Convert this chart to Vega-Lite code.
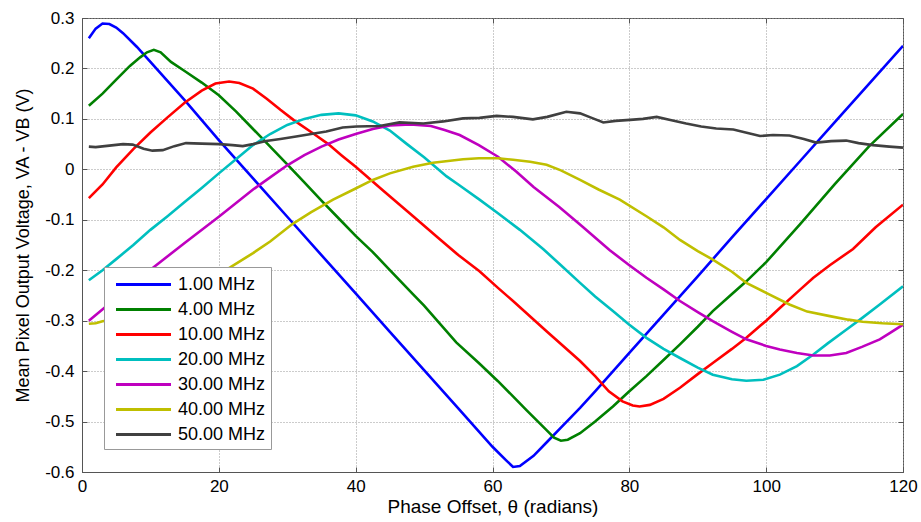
{
  "$schema": "https://vega.github.io/schema/vega-lite/v6.json",
  "width": 821,
  "height": 454,
  "autosize": {"type": "none"},
  "padding": {"left": 82, "top": 18, "right": 18, "bottom": 50},
  "background": "white",
  "config": {
    "font": "Liberation Sans",
    "view": {"stroke": "#555", "strokeWidth": 1},
    "axis": {
      "labelFont": "Liberation Sans", "titleFont": "Liberation Sans",
      "labelFontSize": 17, "titleFontSize": 18, "titleFontWeight": "normal",
      "labelColor": "#000", "titleColor": "#000",
      "domainColor": "#555", "tickColor": "#555",
      "gridColor": "#999", "gridDash": [1, 2], "gridOpacity": 1,
      "tickSize": -5
    },
    "legend": {
      "orient": "none", "legendX": 22, "legendY": 249,
      "fillColor": "white", "strokeColor": "#999", "padding": 5,
      "labelFont": "Liberation Sans", "labelFontSize": 18, "labelColor": "#000",
      "symbolType": "M-0.5,0H4.5", "symbolStrokeWidth": 3, "symbolSize": 484,
      "labelOffset": 44, "rowPadding": 3
    }
  },
  "data": {"values": [
    {"s":"1.00 MHz","x":1,"y":0.26},{"s":"1.00 MHz","x":2,"y":0.279},{"s":"1.00 MHz","x":3,"y":0.289},{"s":"1.00 MHz","x":4,"y":0.288},{"s":"1.00 MHz","x":5,"y":0.281},{"s":"1.00 MHz","x":6,"y":0.27},{"s":"1.00 MHz","x":8,"y":0.243},{"s":"1.00 MHz","x":10,"y":0.213},{"s":"1.00 MHz","x":15,"y":0.137},{"s":"1.00 MHz","x":20,"y":0.058},{"s":"1.00 MHz","x":25,"y":-0.018},{"s":"1.00 MHz","x":30,"y":-0.094},{"s":"1.00 MHz","x":35,"y":-0.17},{"s":"1.00 MHz","x":40,"y":-0.246},{"s":"1.00 MHz","x":45,"y":-0.322},{"s":"1.00 MHz","x":50,"y":-0.398},{"s":"1.00 MHz","x":55,"y":-0.474},{"s":"1.00 MHz","x":60,"y":-0.55},{"s":"1.00 MHz","x":62,"y":-0.577},{"s":"1.00 MHz","x":63,"y":-0.59},{"s":"1.00 MHz","x":64,"y":-0.588},{"s":"1.00 MHz","x":66,"y":-0.568},{"s":"1.00 MHz","x":68,"y":-0.54},{"s":"1.00 MHz","x":70,"y":-0.512},{"s":"1.00 MHz","x":72.8,"y":-0.473},{"s":"1.00 MHz","x":75,"y":-0.44},{"s":"1.00 MHz","x":80,"y":-0.364},{"s":"1.00 MHz","x":85,"y":-0.288},{"s":"1.00 MHz","x":90,"y":-0.212},{"s":"1.00 MHz","x":95,"y":-0.135},{"s":"1.00 MHz","x":100,"y":-0.059},{"s":"1.00 MHz","x":105,"y":0.017},{"s":"1.00 MHz","x":110,"y":0.093},{"s":"1.00 MHz","x":115,"y":0.169},{"s":"1.00 MHz","x":120,"y":0.245},

    {"s":"4.00 MHz","x":1,"y":0.126},{"s":"4.00 MHz","x":3,"y":0.15},{"s":"4.00 MHz","x":5,"y":0.178},{"s":"4.00 MHz","x":7,"y":0.205},{"s":"4.00 MHz","x":8.5,"y":0.222},{"s":"4.00 MHz","x":9.5,"y":0.232},{"s":"4.00 MHz","x":10.5,"y":0.237},{"s":"4.00 MHz","x":11.5,"y":0.232},{"s":"4.00 MHz","x":13,"y":0.213},{"s":"4.00 MHz","x":15,"y":0.195},{"s":"4.00 MHz","x":17.5,"y":0.172},{"s":"4.00 MHz","x":20,"y":0.147},{"s":"4.00 MHz","x":22.5,"y":0.115},{"s":"4.00 MHz","x":25,"y":0.08},{"s":"4.00 MHz","x":27.5,"y":0.045},{"s":"4.00 MHz","x":30,"y":0.01},{"s":"4.00 MHz","x":32.5,"y":-0.026},{"s":"4.00 MHz","x":35,"y":-0.062},{"s":"4.00 MHz","x":37.5,"y":-0.097},{"s":"4.00 MHz","x":40,"y":-0.132},{"s":"4.00 MHz","x":42.5,"y":-0.164},{"s":"4.00 MHz","x":45,"y":-0.2},{"s":"4.00 MHz","x":48.4,"y":-0.248},{"s":"4.00 MHz","x":50,"y":-0.27},{"s":"4.00 MHz","x":54.7,"y":-0.343},{"s":"4.00 MHz","x":58,"y":-0.384},{"s":"4.00 MHz","x":60.8,"y":-0.42},{"s":"4.00 MHz","x":63,"y":-0.45},{"s":"4.00 MHz","x":65,"y":-0.478},{"s":"4.00 MHz","x":67.9,"y":-0.517},{"s":"4.00 MHz","x":69,"y":-0.532},{"s":"4.00 MHz","x":70,"y":-0.538},{"s":"4.00 MHz","x":71,"y":-0.536},{"s":"4.00 MHz","x":72.8,"y":-0.523},{"s":"4.00 MHz","x":75,"y":-0.5},{"s":"4.00 MHz","x":77.6,"y":-0.47},{"s":"4.00 MHz","x":80,"y":-0.44},{"s":"4.00 MHz","x":82.5,"y":-0.41},{"s":"4.00 MHz","x":85,"y":-0.378},{"s":"4.00 MHz","x":87.4,"y":-0.347},{"s":"4.00 MHz","x":90,"y":-0.312},{"s":"4.00 MHz","x":92.2,"y":-0.281},{"s":"4.00 MHz","x":95,"y":-0.247},{"s":"4.00 MHz","x":97.1,"y":-0.222},{"s":"4.00 MHz","x":100,"y":-0.184},{"s":"4.00 MHz","x":105,"y":-0.108},{"s":"4.00 MHz","x":110,"y":-0.03},{"s":"4.00 MHz","x":115,"y":0.045},{"s":"4.00 MHz","x":120,"y":0.11},

    {"s":"10.00 MHz","x":1,"y":-0.057},{"s":"10.00 MHz","x":3,"y":-0.03},{"s":"10.00 MHz","x":5,"y":0.004},{"s":"10.00 MHz","x":7.5,"y":0.04},{"s":"10.00 MHz","x":10,"y":0.073},{"s":"10.00 MHz","x":12.5,"y":0.103},{"s":"10.00 MHz","x":15,"y":0.132},{"s":"10.00 MHz","x":17.5,"y":0.156},{"s":"10.00 MHz","x":19.5,"y":0.17},{"s":"10.00 MHz","x":21.5,"y":0.174},{"s":"10.00 MHz","x":23,"y":0.171},{"s":"10.00 MHz","x":25,"y":0.16},{"s":"10.00 MHz","x":27,"y":0.14},{"s":"10.00 MHz","x":29,"y":0.118},{"s":"10.00 MHz","x":31,"y":0.097},{"s":"10.00 MHz","x":33.8,"y":0.071},{"s":"10.00 MHz","x":36,"y":0.05},{"s":"10.00 MHz","x":38,"y":0.027},{"s":"10.00 MHz","x":40,"y":0.005},{"s":"10.00 MHz","x":44,"y":-0.042},{"s":"10.00 MHz","x":48.4,"y":-0.093},{"s":"10.00 MHz","x":52,"y":-0.135},{"s":"10.00 MHz","x":55,"y":-0.17},{"s":"10.00 MHz","x":58.1,"y":-0.202},{"s":"10.00 MHz","x":60.8,"y":-0.235},{"s":"10.00 MHz","x":63,"y":-0.261},{"s":"10.00 MHz","x":67.9,"y":-0.321},{"s":"10.00 MHz","x":72.8,"y":-0.38},{"s":"10.00 MHz","x":75,"y":-0.41},{"s":"10.00 MHz","x":77,"y":-0.44},{"s":"10.00 MHz","x":79,"y":-0.46},{"s":"10.00 MHz","x":80.5,"y":-0.468},{"s":"10.00 MHz","x":81.5,"y":-0.47},{"s":"10.00 MHz","x":83,"y":-0.467},{"s":"10.00 MHz","x":85,"y":-0.455},{"s":"10.00 MHz","x":87.4,"y":-0.433},{"s":"10.00 MHz","x":90,"y":-0.406},{"s":"10.00 MHz","x":92.2,"y":-0.384},{"s":"10.00 MHz","x":95,"y":-0.356},{"s":"10.00 MHz","x":97.1,"y":-0.334},{"s":"10.00 MHz","x":100,"y":-0.3},{"s":"10.00 MHz","x":102,"y":-0.275},{"s":"10.00 MHz","x":105,"y":-0.238},{"s":"10.00 MHz","x":106.9,"y":-0.215},{"s":"10.00 MHz","x":109.3,"y":-0.19},{"s":"10.00 MHz","x":112.7,"y":-0.158},{"s":"10.00 MHz","x":116,"y":-0.115},{"s":"10.00 MHz","x":120,"y":-0.07},

    {"s":"20.00 MHz","x":1,"y":-0.22},{"s":"20.00 MHz","x":3,"y":-0.2},{"s":"20.00 MHz","x":5,"y":-0.178},{"s":"20.00 MHz","x":7.5,"y":-0.15},{"s":"20.00 MHz","x":10,"y":-0.12},{"s":"20.00 MHz","x":12.5,"y":-0.093},{"s":"20.00 MHz","x":15,"y":-0.065},{"s":"20.00 MHz","x":17.5,"y":-0.037},{"s":"20.00 MHz","x":20,"y":-0.008},{"s":"20.00 MHz","x":22.5,"y":0.02},{"s":"20.00 MHz","x":25,"y":0.048},{"s":"20.00 MHz","x":27.5,"y":0.07},{"s":"20.00 MHz","x":30,"y":0.088},{"s":"20.00 MHz","x":32.5,"y":0.1},{"s":"20.00 MHz","x":35,"y":0.108},{"s":"20.00 MHz","x":37.5,"y":0.111},{"s":"20.00 MHz","x":40,"y":0.107},{"s":"20.00 MHz","x":42.5,"y":0.095},{"s":"20.00 MHz","x":45,"y":0.077},{"s":"20.00 MHz","x":47.5,"y":0.05},{"s":"20.00 MHz","x":50,"y":0.024},{"s":"20.00 MHz","x":53.3,"y":-0.014},{"s":"20.00 MHz","x":55,"y":-0.03},{"s":"20.00 MHz","x":58.1,"y":-0.06},{"s":"20.00 MHz","x":60.8,"y":-0.087},{"s":"20.00 MHz","x":64,"y":-0.12},{"s":"20.00 MHz","x":67.4,"y":-0.158},{"s":"20.00 MHz","x":70,"y":-0.19},{"s":"20.00 MHz","x":72.8,"y":-0.225},{"s":"20.00 MHz","x":75,"y":-0.252},{"s":"20.00 MHz","x":77.6,"y":-0.281},{"s":"20.00 MHz","x":80,"y":-0.308},{"s":"20.00 MHz","x":82.5,"y":-0.334},{"s":"20.00 MHz","x":85,"y":-0.356},{"s":"20.00 MHz","x":87.4,"y":-0.374},{"s":"20.00 MHz","x":90,"y":-0.393},{"s":"20.00 MHz","x":92.2,"y":-0.407},{"s":"20.00 MHz","x":95,"y":-0.416},{"s":"20.00 MHz","x":97.1,"y":-0.419},{"s":"20.00 MHz","x":99.6,"y":-0.417},{"s":"20.00 MHz","x":102,"y":-0.407},{"s":"20.00 MHz","x":104.5,"y":-0.39},{"s":"20.00 MHz","x":106.9,"y":-0.367},{"s":"20.00 MHz","x":109,"y":-0.345},{"s":"20.00 MHz","x":111.7,"y":-0.318},{"s":"20.00 MHz","x":114,"y":-0.295},{"s":"20.00 MHz","x":116.6,"y":-0.268},{"s":"20.00 MHz","x":120,"y":-0.232},

    {"s":"30.00 MHz","x":1,"y":-0.3},{"s":"30.00 MHz","x":5,"y":-0.255},{"s":"30.00 MHz","x":10,"y":-0.199},{"s":"30.00 MHz","x":15,"y":-0.146},{"s":"30.00 MHz","x":20,"y":-0.094},{"s":"30.00 MHz","x":25,"y":-0.04},{"s":"30.00 MHz","x":27.5,"y":-0.016},{"s":"30.00 MHz","x":30,"y":0.008},{"s":"30.00 MHz","x":32.5,"y":0.028},{"s":"30.00 MHz","x":35,"y":0.045},{"s":"30.00 MHz","x":37.5,"y":0.059},{"s":"30.00 MHz","x":40,"y":0.07},{"s":"30.00 MHz","x":42.5,"y":0.08},{"s":"30.00 MHz","x":45,"y":0.087},{"s":"30.00 MHz","x":48,"y":0.089},{"s":"30.00 MHz","x":51,"y":0.086},{"s":"30.00 MHz","x":53,"y":0.078},{"s":"30.00 MHz","x":55.2,"y":0.068},{"s":"30.00 MHz","x":58,"y":0.048},{"s":"30.00 MHz","x":60.8,"y":0.025},{"s":"30.00 MHz","x":63.5,"y":-0.005},{"s":"30.00 MHz","x":66,"y":-0.035},{"s":"30.00 MHz","x":69.8,"y":-0.075},{"s":"30.00 MHz","x":73,"y":-0.112},{"s":"30.00 MHz","x":77.1,"y":-0.16},{"s":"30.00 MHz","x":80,"y":-0.19},{"s":"30.00 MHz","x":82.5,"y":-0.215},{"s":"30.00 MHz","x":85,"y":-0.238},{"s":"30.00 MHz","x":87.4,"y":-0.261},{"s":"30.00 MHz","x":90,"y":-0.283},{"s":"30.00 MHz","x":92.2,"y":-0.301},{"s":"30.00 MHz","x":95,"y":-0.322},{"s":"30.00 MHz","x":97.1,"y":-0.337},{"s":"30.00 MHz","x":100,"y":-0.35},{"s":"30.00 MHz","x":102,"y":-0.357},{"s":"30.00 MHz","x":104.5,"y":-0.364},{"s":"30.00 MHz","x":106.9,"y":-0.369},{"s":"30.00 MHz","x":109.3,"y":-0.369},{"s":"30.00 MHz","x":111.7,"y":-0.364},{"s":"30.00 MHz","x":114,"y":-0.352},{"s":"30.00 MHz","x":116.6,"y":-0.337},{"s":"30.00 MHz","x":118,"y":-0.325},{"s":"30.00 MHz","x":120,"y":-0.308},

    {"s":"40.00 MHz","x":1,"y":-0.306},{"s":"40.00 MHz","x":2,"y":-0.305},{"s":"40.00 MHz","x":3,"y":-0.301},{"s":"40.00 MHz","x":4,"y":-0.299},{"s":"40.00 MHz","x":6,"y":-0.293},{"s":"40.00 MHz","x":8,"y":-0.283},{"s":"40.00 MHz","x":10,"y":-0.272},{"s":"40.00 MHz","x":12.5,"y":-0.257},{"s":"40.00 MHz","x":15,"y":-0.24},{"s":"40.00 MHz","x":17.5,"y":-0.222},{"s":"40.00 MHz","x":20,"y":-0.206},{"s":"40.00 MHz","x":21.6,"y":-0.195},{"s":"40.00 MHz","x":25,"y":-0.166},{"s":"40.00 MHz","x":27.5,"y":-0.143},{"s":"40.00 MHz","x":30.8,"y":-0.108},{"s":"40.00 MHz","x":33.5,"y":-0.085},{"s":"40.00 MHz","x":36.7,"y":-0.06},{"s":"40.00 MHz","x":40,"y":-0.038},{"s":"40.00 MHz","x":42.5,"y":-0.021},{"s":"40.00 MHz","x":45,"y":-0.008},{"s":"40.00 MHz","x":48.4,"y":0.005},{"s":"40.00 MHz","x":51.3,"y":0.013},{"s":"40.00 MHz","x":55.7,"y":0.02},{"s":"40.00 MHz","x":58,"y":0.022},{"s":"40.00 MHz","x":60.8,"y":0.022},{"s":"40.00 MHz","x":63,"y":0.019},{"s":"40.00 MHz","x":65.5,"y":0.015},{"s":"40.00 MHz","x":67.9,"y":0.009},{"s":"40.00 MHz","x":70,"y":-0.002},{"s":"40.00 MHz","x":72.8,"y":-0.021},{"s":"40.00 MHz","x":75.5,"y":-0.04},{"s":"40.00 MHz","x":78.6,"y":-0.06},{"s":"40.00 MHz","x":82.5,"y":-0.093},{"s":"40.00 MHz","x":85,"y":-0.115},{"s":"40.00 MHz","x":87.4,"y":-0.14},{"s":"40.00 MHz","x":90,"y":-0.162},{"s":"40.00 MHz","x":92.2,"y":-0.179},{"s":"40.00 MHz","x":95,"y":-0.203},{"s":"40.00 MHz","x":97.1,"y":-0.225},{"s":"40.00 MHz","x":100,"y":-0.245},{"s":"40.00 MHz","x":103.4,"y":-0.268},{"s":"40.00 MHz","x":106,"y":-0.282},{"s":"40.00 MHz","x":109.3,"y":-0.291},{"s":"40.00 MHz","x":112,"y":-0.298},{"s":"40.00 MHz","x":114.1,"y":-0.302},{"s":"40.00 MHz","x":117,"y":-0.305},{"s":"40.00 MHz","x":120,"y":-0.307},

    {"s":"50.00 MHz","x":1,"y":0.045},{"s":"50.00 MHz","x":2,"y":0.044},{"s":"50.00 MHz","x":4,"y":0.047},{"s":"50.00 MHz","x":6,"y":0.05},{"s":"50.00 MHz","x":7.4,"y":0.049},{"s":"50.00 MHz","x":9,"y":0.041},{"s":"50.00 MHz","x":10.3,"y":0.037},{"s":"50.00 MHz","x":11.8,"y":0.038},{"s":"50.00 MHz","x":13.5,"y":0.046},{"s":"50.00 MHz","x":15.2,"y":0.052},{"s":"50.00 MHz","x":17.5,"y":0.051},{"s":"50.00 MHz","x":20.1,"y":0.05},{"s":"50.00 MHz","x":22,"y":0.048},{"s":"50.00 MHz","x":23.5,"y":0.046},{"s":"50.00 MHz","x":25,"y":0.05},{"s":"50.00 MHz","x":26.9,"y":0.056},{"s":"50.00 MHz","x":29,"y":0.06},{"s":"50.00 MHz","x":31.3,"y":0.065},{"s":"50.00 MHz","x":33.5,"y":0.07},{"s":"50.00 MHz","x":35.7,"y":0.075},{"s":"50.00 MHz","x":38.1,"y":0.083},{"s":"50.00 MHz","x":40.1,"y":0.085},{"s":"50.00 MHz","x":43.5,"y":0.086},{"s":"50.00 MHz","x":46.4,"y":0.093},{"s":"50.00 MHz","x":49.9,"y":0.091},{"s":"50.00 MHz","x":52.8,"y":0.095},{"s":"50.00 MHz","x":55.7,"y":0.101},{"s":"50.00 MHz","x":58.1,"y":0.102},{"s":"50.00 MHz","x":60.6,"y":0.106},{"s":"50.00 MHz","x":63,"y":0.104},{"s":"50.00 MHz","x":65.9,"y":0.099},{"s":"50.00 MHz","x":68,"y":0.104},{"s":"50.00 MHz","x":70.8,"y":0.114},{"s":"50.00 MHz","x":72.8,"y":0.111},{"s":"50.00 MHz","x":74.5,"y":0.102},{"s":"50.00 MHz","x":76.2,"y":0.093},{"s":"50.00 MHz","x":78,"y":0.096},{"s":"50.00 MHz","x":80.1,"y":0.098},{"s":"50.00 MHz","x":82,"y":0.1},{"s":"50.00 MHz","x":84,"y":0.104},{"s":"50.00 MHz","x":86,"y":0.098},{"s":"50.00 MHz","x":88.3,"y":0.091},{"s":"50.00 MHz","x":90.5,"y":0.085},{"s":"50.00 MHz","x":92.7,"y":0.081},{"s":"50.00 MHz","x":95.2,"y":0.079},{"s":"50.00 MHz","x":97,"y":0.073},{"s":"50.00 MHz","x":99.1,"y":0.066},{"s":"50.00 MHz","x":101,"y":0.068},{"s":"50.00 MHz","x":103.4,"y":0.067},{"s":"50.00 MHz","x":105.5,"y":0.06},{"s":"50.00 MHz","x":107.3,"y":0.053},{"s":"50.00 MHz","x":109.5,"y":0.056},{"s":"50.00 MHz","x":111.7,"y":0.057},{"s":"50.00 MHz","x":113.5,"y":0.052},{"s":"50.00 MHz","x":115.6,"y":0.048},{"s":"50.00 MHz","x":118,"y":0.045},{"s":"50.00 MHz","x":120,"y":0.043}
  ]},
  "layer": [
    {
      "mark": {"type": "line", "strokeWidth": 2.6, "clip": true},
      "encoding": {
        "x": {"field": "x", "type": "quantitative",
              "scale": {"domain": [0, 120], "nice": false, "zero": false},
              "axis": {"orient": "bottom", "values": [0, 20, 40, 60, 80, 100, 120], "title": "Phase Offset, θ (radians)", "titleFontSize": 19, "labelFlush": false, "labelPadding": 11, "titlePadding": 3}},
        "y": {"field": "y", "type": "quantitative",
              "scale": {"domain": [-0.6, 0.3], "nice": false, "zero": false},
              "axis": {"orient": "left", "values": [-0.6, -0.5, -0.4, -0.3, -0.2, -0.1, 0, 0.1, 0.2, 0.3], "labelExpr": "'' + datum.value", "title": "Mean Pixel Output Voltage, VA - VB (V)", "labelPadding": 13, "titlePadding": 12, "labelFlush": false}},
        "color": {"field": "s", "type": "nominal",
                  "scale": {"domain": ["1.00 MHz", "4.00 MHz", "10.00 MHz", "20.00 MHz", "30.00 MHz", "40.00 MHz", "50.00 MHz"],
                            "range": ["#0000ff", "#008000", "#ff0000", "#00bfbf", "#bf00bf", "#bfbf00", "#404040"]},
                  "legend": {"title": null}}
      }
    },
    {
      "mark": {"type": "point", "opacity": 0},
      "encoding": {
        "x": {"field": "x", "type": "quantitative",
              "scale": {"domain": [0, 120], "nice": false, "zero": false},
              "axis": {"orient": "top", "values": [0, 20, 40, 60, 80, 100, 120], "labels": false, "grid": false, "domain": false, "title": null}},
        "y": {"field": "y", "type": "quantitative",
              "scale": {"domain": [-0.6, 0.3], "nice": false, "zero": false},
              "axis": {"orient": "right", "values": [-0.6, -0.5, -0.4, -0.3, -0.2, -0.1, 0, 0.1, 0.2, 0.3], "labels": false, "grid": false, "domain": false, "title": null}}
      }
    }
  ],
  "resolve": {"axis": {"x": "independent", "y": "independent"}}
}
